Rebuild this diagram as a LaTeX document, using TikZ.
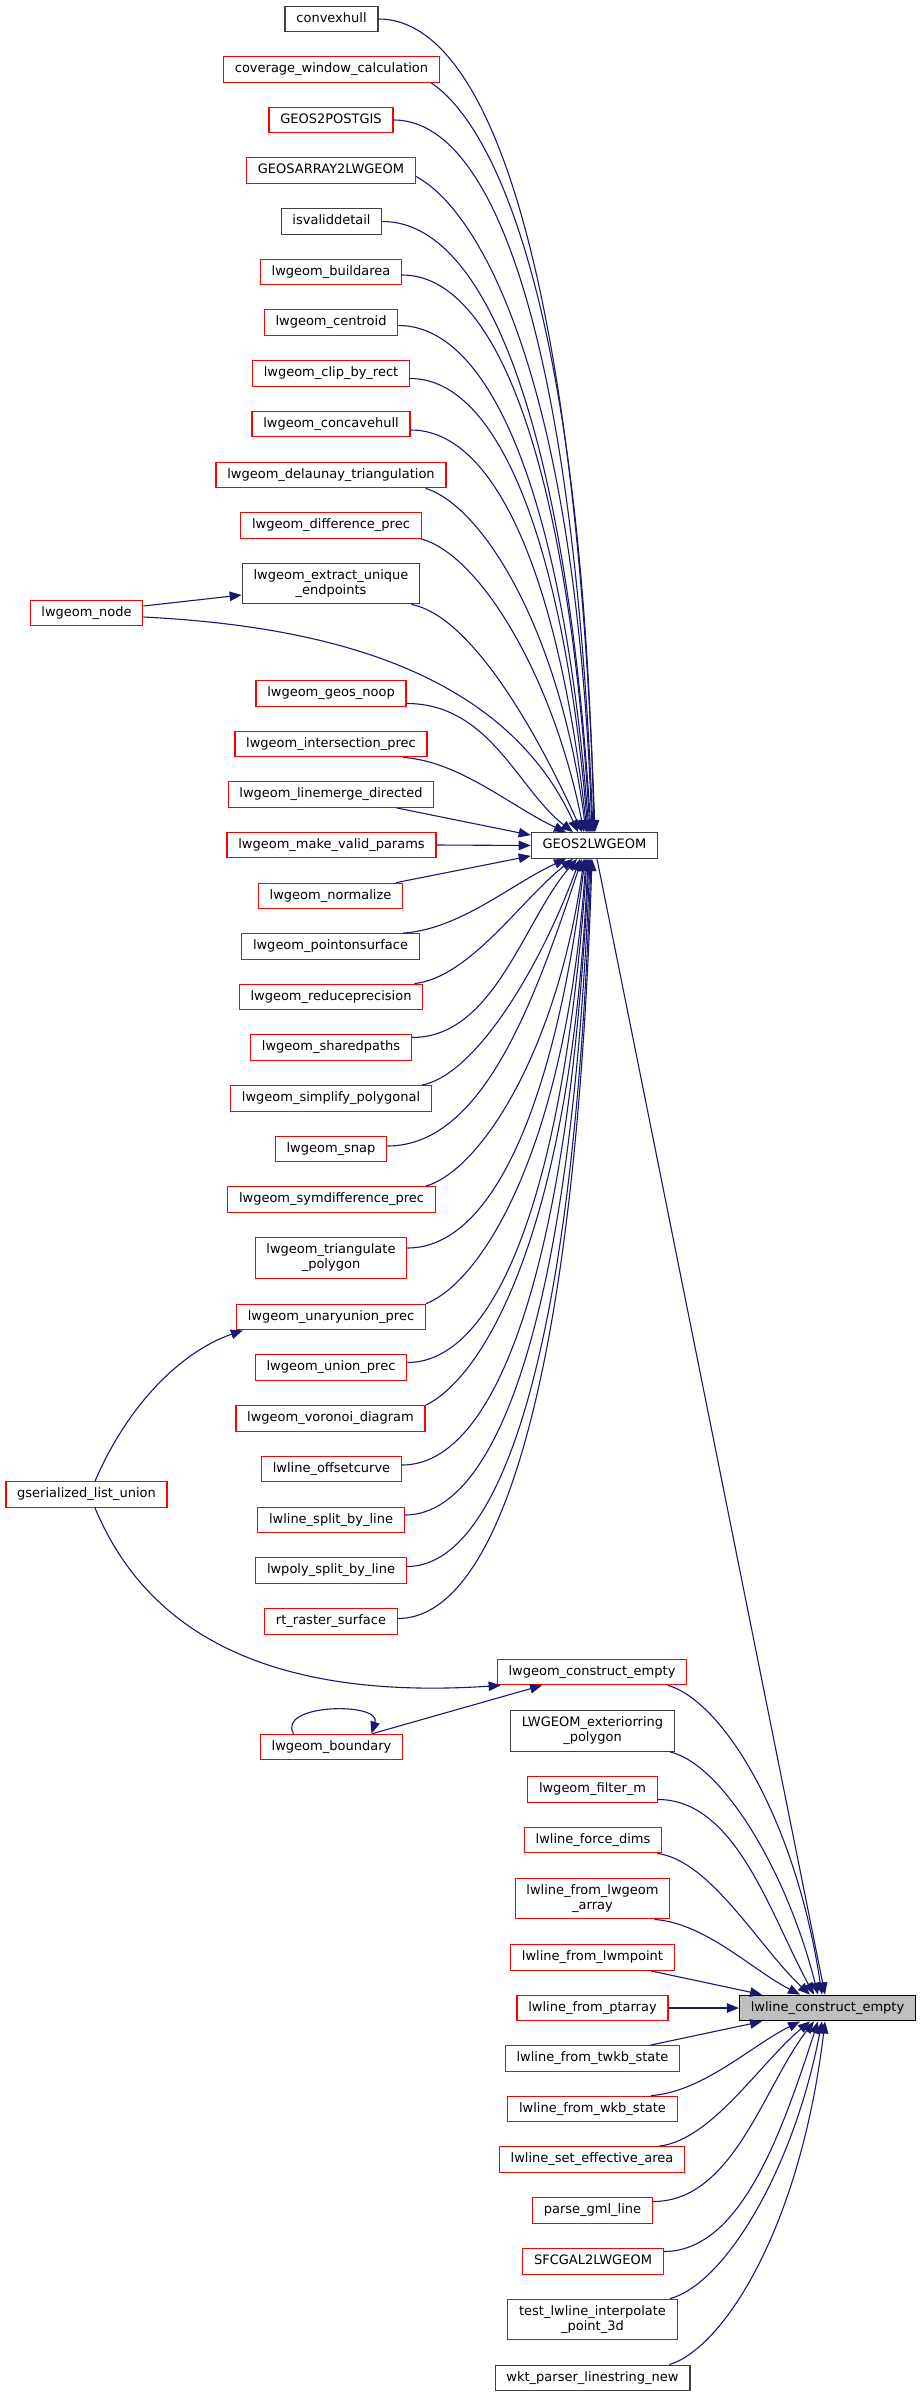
\documentclass[tikz,border=0pt]{standalone}
\usepackage{fontspec}
\setmainfont{DejaVu Sans}
\usetikzlibrary{arrows.meta,calc}
\definecolor{edgec}{HTML}{191970}
\definecolor{redb}{HTML}{FF0000}
\definecolor{grayb}{HTML}{404040}
\definecolor{tfill}{HTML}{BFBFBF}
\tikzset{
  box/.style={draw, line width=1.3pt, fill=white, font=\fontsize{13}{15}\selectfont,
    inner xsep=11.3pt, inner ysep=2pt, minimum height=25.5pt},
  one/.style={text height=9.6pt, text depth=2.8pt},
  two/.style={align=center, minimum height=40.5pt},
  rbox/.style={box, draw=redb},
  bbox/.style={box, draw=grayb},
  tbox/.style={box, draw=black, fill=tfill},
  edge/.style={draw=edgec, line width=1.1pt, -{Triangle[length=12pt,width=9.5pt]}}
}
% #1,#2: start control fractions; #3 start; #4 end
\newcommand\gvgen[4]{%
  \draw[edge] let \p1=(#3), \p2=(#4) in (\p1) .. controls
   ({(\x1)+#1*((\x2)-(\x1))},{(\y1)+#2*((\y2)-(\y1))}) and
   ({(\x2)-min(0.33,0.35*abs(((\x2)-(\x1))/((\y2)-(\y1))))*((\x2)-(\x1))},
    {(\y2)-max(0.33,0.85-0.55*abs(((\x2)-(\x1))/((\y2)-(\y1))))*((\y2)-(\y1))}) .. (\p2);}
\newcommand\gvedge[2]{\gvgen{0.5}{0}{#1}{#2}}
\newcommand\gvedgec[2]{\gvgen{0.35}{0.05}{#1}{#2}}
\begin{document}
\begin{tikzpicture}[x=1pt,y=-1pt]
\fill[white] (0,0) rectangle (921,2397);
\useasboundingbox (0,0) rectangle (921,2397);
% left column
\node[bbox,one] (cvh) at (331.5,19) {convexhull};
\node[rbox,one] (cov) at (331.5,69.5) {coverage\_window\_calculation};
\node[rbox,one] (g2p) at (331,120) {GEOS2POSTGIS};
\node[rbox,one] (gar) at (331,170.5) {GEOSARRAY2LWGEOM};
\node[bbox,one] (isv) at (331.5,221.5) {isvaliddetail};
\node[rbox,one] (bda) at (331,272) {lwgeom\_buildarea};
\node[rbox,one] (cen) at (331,322.5) {lwgeom\_centroid};
\node[rbox,one] (clp) at (331,373.5) {lwgeom\_clip\_by\_rect};
\node[rbox,one] (cch) at (331,424) {lwgeom\_concavehull};
\node[rbox,one] (del) at (331,475) {lwgeom\_delaunay\_triangulation};
\node[rbox,one] (dif) at (331,525.5) {lwgeom\_difference\_prec};
\node[bbox,two] (ext) at (331,583.5) {lwgeom\_extract\_unique\\\_endpoints};
\node[rbox,one] (nod) at (86.5,613) {lwgeom\_node};
\node[rbox,one] (noop) at (331,693.5) {lwgeom\_geos\_noop};
\node[rbox,one] (ins) at (331,744) {lwgeom\_intersection\_prec};
\node[rbox,one] (lmd) at (331,794.5) {lwgeom\_linemerge\_directed};
\node[rbox,one] (mvp) at (331.5,845) {lwgeom\_make\_valid\_params};
\node[bbox,one] (g2l) at (594.5,845.5) {GEOS2LWGEOM};
\node[rbox,one] (nrm) at (330.5,896) {lwgeom\_normalize};
\node[rbox,one] (pos) at (330.5,946.5) {lwgeom\_pointonsurface};
\node[rbox,one] (rdp) at (331,997) {lwgeom\_reduceprecision};
\node[rbox,one] (shp) at (331,1047.5) {lwgeom\_sharedpaths};
\node[rbox,one] (smp) at (331,1098.5) {lwgeom\_simplify\_polygonal};
\node[rbox,one] (snp) at (331,1149) {lwgeom\_snap};
\node[rbox,one] (sym) at (331.5,1199.5) {lwgeom\_symdifference\_prec};
\node[rbox,two] (tri) at (331,1258) {lwgeom\_triangulate\\\_polygon};
\node[rbox,one] (uup) at (331,1317) {lwgeom\_unaryunion\_prec};
\node[rbox,one] (unp) at (331,1367.5) {lwgeom\_union\_prec};
\node[rbox,one] (vor) at (330.5,1418.5) {lwgeom\_voronoi\_diagram};
\node[rbox,one] (ofc) at (331.5,1469) {lwline\_offsetcurve};
\node[rbox,one] (lsl) at (331,1520) {lwline\_split\_by\_line};
\node[rbox,one] (psl) at (331,1570.5) {lwpoly\_split\_by\_line};
\node[rbox,one] (rts) at (331,1621.5) {rt\_raster\_surface};
\node[rbox,one] (gsl) at (86.5,1494.5) {gserialized\_list\_union};
\node[rbox,one] (lce) at (592,1672) {lwgeom\_construct\_empty};
\node[rbox,one] (bnd) at (331.5,1747) {lwgeom\_boundary};
% right column
\node[bbox,two] (ext2) at (592.5,1731) {LWGEOM\_exteriorring\\\_polygon};
\node[rbox,one] (fm) at (592.5,1789.5) {lwgeom\_filter\_m};
\node[rbox,one] (fd) at (593,1840) {lwline\_force\_dims};
\node[rbox,two] (fla) at (592.5,1898.5) {lwline\_from\_lwgeom\\\_array};
\node[rbox,one] (flm) at (592.5,1957.5) {lwline\_from\_lwmpoint};
\node[rbox,one] (fpa) at (592.5,2008) {lwline\_from\_ptarray};
\node[tbox,one] (tgt) at (827.5,2008) {lwline\_construct\_empty};
\node[rbox,one] (ftw) at (592.5,2058.5) {lwline\_from\_twkb\_state};
\node[rbox,one] (fwk) at (592.5,2109) {lwline\_from\_wkb\_state};
\node[rbox,one] (sea) at (592,2159.5) {lwline\_set\_effective\_area};
\node[rbox,one] (pgl) at (592.5,2210.5) {parse\_gml\_line};
\node[rbox,one] (sfc) at (593,2261.5) {SFCGAL2LWGEOM};
\node[rbox,two] (tli) at (592.5,2319.5) {test\_lwline\_interpolate\\\_point\_3d};
\node[bbox,one] (wkt) at (592.5,2378) {wkt\_parser\_linestring\_new};
% edges into GEOS2LWGEOM from above
\gvedge{cvh.east}{[xshift=0.5pt]g2l.north}
\gvedgec{[xshift=-9pt]cov.south east}{[xshift=-0.5pt]g2l.north}
\gvedge{g2p.east}{[xshift=-1.5pt]g2l.north}
\gvedgec{[yshift=-6pt]gar.east}{[xshift=-2.5pt]g2l.north}
\gvedge{isv.east}{[xshift=-3.5pt]g2l.north}
\gvedge{[yshift=-3pt]bda.east}{[xshift=-4.5pt]g2l.north}
\gvedge{[yshift=-3pt]cen.east}{[xshift=-5.5pt]g2l.north}
\gvedge{[yshift=-5pt]clp.east}{[xshift=-6.5pt]g2l.north}
\gvedge{[yshift=-6pt]cch.east}{[xshift=-7.5pt]g2l.north}
\gvedgec{[xshift=-21pt]del.south east}{[xshift=-8.5pt]g2l.north}
\gvedgec{[xshift=-1pt]dif.south east}{[xshift=-10.5pt]g2l.north}
\gvedgec{[xshift=-9pt]ext.south east}{[xshift=-12.5pt]g2l.north}
\draw[edge] ([yshift=-4pt]nod.east) .. controls (300,625) and (500,660) .. ([xshift=-16.5pt]g2l.north);
\draw[edge] ([yshift=7pt]nod.east) -- ([yshift=-11.5pt]ext.west);
\gvedge{[yshift=-10pt]noop.east}{[xshift=-21.5pt]g2l.north}
\gvedgec{[xshift=-25pt]ins.south east}{[xshift=-28.5pt]g2l.north}
\draw[edge] ([xshift=-38pt]lmd.south east) -- ([yshift=-3pt]g2l.north west);
\draw[edge] (mvp.east) -- (g2l.west);
\draw[edge] ([xshift=-7pt]nrm.north east) -- ([yshift=3pt]g2l.south west);
% edges into GEOS2LWGEOM from below
\gvedgec{[xshift=-17pt]pos.north east}{[xshift=-28.5pt]g2l.south}
\gvedgec{[xshift=-9pt]rdp.north east}{[xshift=-21.5pt]g2l.south}
\gvedge{[yshift=10pt]shp.east}{[xshift=-17.5pt]g2l.south}
\gvedgec{[xshift=-10pt]smp.north east}{[xshift=-14.5pt]g2l.south}
\gvedge{[yshift=3pt]snp.east}{[xshift=-12.5pt]g2l.south}
\gvedgec{[xshift=-10pt]sym.north east}{[xshift=-10.5pt]g2l.south}
\gvedge{[yshift=10pt]tri.east}{[xshift=-9.5pt]g2l.south}
\gvedgec{uup.north east}{[xshift=-8.5pt]g2l.south}
\gvedge{[yshift=5pt]unp.east}{[xshift=-7.5pt]g2l.south}
\gvedgec{vor.north east}{[xshift=-6.5pt]g2l.south}
\gvedge{[yshift=4pt]ofc.east}{[xshift=-5.5pt]g2l.south}
\gvedge{[yshift=5pt]lsl.east}{[xshift=-4.5pt]g2l.south}
\gvedge{[yshift=4pt]psl.east}{[xshift=-3.5pt]g2l.south}
\gvedge{[yshift=3pt]rts.east}{[xshift=-2.5pt]g2l.south}
% gserialized_list_union
\draw[edge] ([xshift=8.5pt]gsl.north) .. controls (130,1400) and (185,1350) .. ([xshift=7pt]uup.south west);
\draw[edge] ([xshift=8.5pt]gsl.south) .. controls (150,1640) and (280,1700) .. ([xshift=4pt]lce.south west);
% lwgeom_boundary
\draw[edge] ([xshift=41pt]bnd.north) -- ([xshift=-50pt]lce.south);
\draw[edge] ([xshift=-38pt]bnd.north) .. controls ([xshift=-55pt,yshift=30pt]bnd.north) and ([xshift=50pt,yshift=32pt]bnd.north) .. ([xshift=40pt]bnd.north);
% edges into lwline_construct_empty
\draw[edge] ([xshift=2.5pt]g2l.south) -- ([xshift=-2.5pt]tgt.north);
\gvedgec{[xshift=76pt]lce.south}{[xshift=-5.5pt]tgt.north}
\gvedgec{[xshift=-5pt]ext2.south east}{[xshift=-9.5pt]tgt.north}
\gvedge{[yshift=-10pt]fm.east}{[xshift=-13.5pt]tgt.north}
\gvedgec{[xshift=-5pt]fd.south east}{[xshift=-17.5pt]tgt.north}
\gvedgec{[xshift=-16pt]fla.south east}{[xshift=-27.5pt]tgt.north}
\draw[edge] ([xshift=-24pt]flm.south east) -- ([xshift=-65.5pt]tgt.north);
\draw[edge] (fpa.east) -- (tgt.west);
\draw[edge] ([xshift=-30pt]ftw.north east) -- ([xshift=-65.5pt]tgt.south);
\gvedgec{[xshift=-27pt]fwk.north east}{[xshift=-27.5pt]tgt.south}
\gvedgec{[xshift=-26pt]sea.north east}{[xshift=-17.5pt]tgt.south}
\gvedge{[yshift=9pt]pgl.east}{[xshift=-13.5pt]tgt.south}
\gvedge{[yshift=10pt]sfc.east}{[xshift=-9.5pt]tgt.south}
\gvedgec{[xshift=-8pt]tli.north east}{[xshift=-5.5pt]tgt.south}
\gvedgec{[xshift=-21pt]wkt.north east}{[xshift=-2.5pt]tgt.south}
\end{tikzpicture}
\end{document}
